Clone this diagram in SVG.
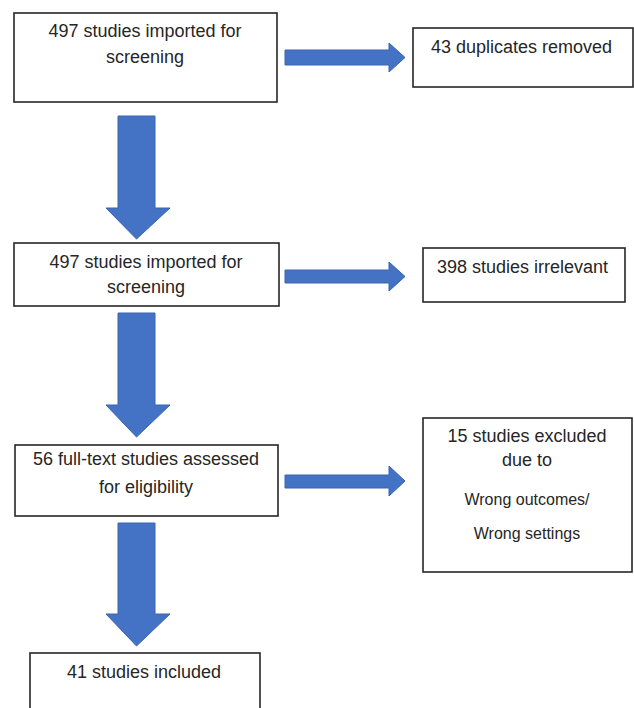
<svg xmlns="http://www.w3.org/2000/svg" width="634" height="708" viewBox="0 0 634 708">
<style>
.box{fill:#fff;stroke:#262626;stroke-width:1.6}
.arr{fill:#4472C4;stroke:#3A64AE;stroke-width:1}
.t{font-family:"Liberation Sans",Arial,sans-serif;font-size:18px;fill:#262626}
.s{font-size:16px}
.c{text-anchor:middle}
</style>
<rect width="634" height="708" fill="#fff"/>
<g id="connectors">
<polygon class="arr" points="118,116 155,116 155,208 170,208 136.5,239 106,208 118,208"/>
<polygon class="arr" points="118,313 155,313 155,405 170,405 136.5,437 106,405 118,405"/>
<polygon class="arr" points="118,523 155,523 155,614 170,614 136.5,646 106,614 118,614"/>
<polygon class="arr" points="285,50 389,50 389,43 405,57.5 389,72 389,65 285,65"/>
<polygon class="arr" points="285,270 389,270 389,262 405,276.5 389,291 389,283 285,283"/>
<polygon class="arr" points="285,475 389,475 389,466 405,481 389,496 389,488 285,488"/>
</g>
<g id="n1">
<rect class="box" x="14" y="13" width="263" height="89"/>
<text class="t c" x="145" y="37">497 studies imported for</text>
<text class="t c" x="145" y="63">screening</text>
</g>
<g id="n2">
<rect class="box" x="413" y="28" width="220" height="59"/>
<text class="t" x="431" y="53">43 duplicates removed</text>
</g>
<g id="n3">
<rect class="box" x="14" y="243" width="265" height="63"/>
<text class="t c" x="146" y="268">497 studies imported for</text>
<text class="t c" x="146" y="293">screening</text>
</g>
<g id="n4">
<rect class="box" x="423" y="248" width="202" height="54"/>
<text class="t" x="437" y="273">398 studies irrelevant</text>
</g>
<g id="n5">
<rect class="box" x="15" y="445" width="263" height="71"/>
<text class="t c" x="146" y="465">56 full-text studies assessed</text>
<text class="t c" x="146" y="493">for eligibility</text>
</g>
<g id="n6">
<rect class="box" x="423" y="418" width="209" height="154"/>
<text class="t c" x="527" y="442">15 studies excluded</text>
<text class="t c" x="527" y="466">due to</text>
<text class="t s c" x="527" y="505">Wrong outcomes/</text>
<text class="t s c" x="527" y="539">Wrong settings</text>
</g>
<g id="n7">
<rect class="box" x="30" y="653" width="230" height="70"/>
<text class="t c" x="144" y="678">41 studies included</text>
</g>
</svg>
